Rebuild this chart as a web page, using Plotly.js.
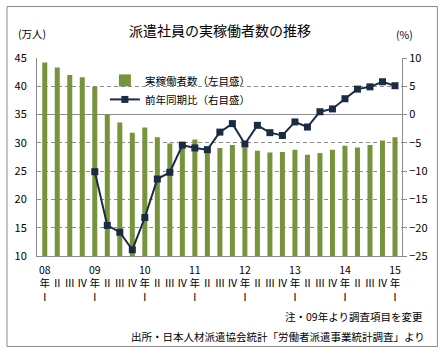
<!DOCTYPE html>
<html>
<head>
<meta charset="utf-8">
<script src="https://cdn.plot.ly/plotly-3.0.1.min.js"></script>
<style>
html,body{margin:0;padding:0;background:#fff;}
#chart{width:444px;height:353px;}
</style>
</head>
<body>
<div id="chart"></div>
<script>
// Quarters 2008 Q1 .. 2015 Q1
var quarterIndex = [0,1,2,3,4,5,6,7,8,9,10,11,12,13,14,15,16,17,18,19,20,21,22,23,24,25,26,27,28];
var tickLabels = [
  "08<br>年<br>Ⅰ"," <br>Ⅱ"," <br>Ⅲ"," <br>Ⅳ",
  "09<br>年<br>Ⅰ"," <br>Ⅱ"," <br>Ⅲ"," <br>Ⅳ",
  "10<br>年<br>Ⅰ"," <br>Ⅱ"," <br>Ⅲ"," <br>Ⅳ",
  "11<br>年<br>Ⅰ"," <br>Ⅱ"," <br>Ⅲ"," <br>Ⅳ",
  "12<br>年<br>Ⅰ"," <br>Ⅱ"," <br>Ⅲ"," <br>Ⅳ",
  "13<br>年<br>Ⅰ"," <br>Ⅱ"," <br>Ⅲ"," <br>Ⅳ",
  "14<br>年<br>Ⅰ"," <br>Ⅱ"," <br>Ⅲ"," <br>Ⅳ",
  "15<br>年<br>Ⅰ"
];
// 実稼働者数 (万人)
var workers = [44.2,43.3,42.0,41.6,39.9,35.0,33.6,31.8,32.7,31.0,29.9,29.6,30.6,28.8,29.1,29.6,29.2,28.6,28.3,28.4,28.8,27.9,28.2,28.8,29.5,29.2,29.6,30.4,31.0];
// 前年同期比 (%)
var yoy = [null,null,null,null,-10.1,-19.6,-20.8,-23.9,-18.2,-11.4,-10.2,-5.4,-5.9,-6.2,-3.1,-1.6,-5.2,-1.9,-3.2,-3.7,-1.3,-2.2,0.5,1.0,2.8,4.5,4.9,5.8,5.1];

var FONT = '"Noto Sans CJK JP", "Noto Sans", sans-serif';
var GRAY = '#8c8c8c';

var traces = [
  {
    type: 'bar', x: quarterIndex, y: workers, name: '実稼働者数（左目盛）',
    marker: {color: '#77933C'}, yaxis: 'y', hoverinfo: 'skip'
  },
  {
    type: 'scatter', mode: 'lines+markers', x: quarterIndex, y: yoy, name: '前年同期比（右目盛）',
    yaxis: 'y2', line: {color: '#1a2b45', width: 2},
    marker: {symbol: 'square', size: 7, color: '#1a2b45'}, connectgaps: false, hoverinfo: 'skip'
  }
];

var layout = {
  width: 444, height: 353,
  margin: {l: 37, r: 42, t: 58, b: 97, pad: 0},
  paper_bgcolor: '#fff', plot_bgcolor: 'rgba(0,0,0,0)',
  font: {family: FONT, size: 11, color: '#000'},
  bargap: 0.6,
  showlegend: true,
  legend: {
    x: 0.186, y: 0.96, xanchor: 'left', yanchor: 'top',
    bgcolor: 'rgba(0,0,0,0)', font: {size: 10.5, family: FONT},
    tracegroupgap: 0, itemwidth: 30
  },
  title: {
    text: '派遣社員の実稼働者数の推移',
    x: 0.4955, xanchor: 'center', xref: 'container',
    y: 0.912, yanchor: 'middle', yref: 'container',
    font: {size: 14, family: FONT, color: '#000'}
  },
  xaxis: {
    range: [-0.62, 28.56], tickmode: 'array', tickvals: quarterIndex, ticktext: tickLabels,
    showline: true, linecolor: GRAY, linewidth: 1, ticks: '', showgrid: false, zeroline: false,
    tickfont: {size: 10.5, family: FONT}, tickangle: 0, ticklabelstandoff: 4, fixedrange: true
  },
  yaxis: {
    range: [10, 45], dtick: 5, tick0: 10, showline: true, linecolor: GRAY, linewidth: 1,
    showgrid: true, gridcolor: GRAY, gridwidth: 1, griddash: '4px,3px',
    zeroline: false, ticks: 'outside', ticklen: 7, tickcolor: 'rgba(0,0,0,0)',
    tickfont: {size: 11, family: FONT}, fixedrange: true
  },
  yaxis2: {
    range: [-25, 10], dtick: 5, tick0: 0, overlaying: 'y', side: 'right',
    showline: true, linecolor: GRAY, linewidth: 1, showgrid: false,
    zeroline: true, zerolinecolor: GRAY, zerolinewidth: 1,
    ticks: 'outside', ticklen: 4, tickcolor: GRAY,
    tickfont: {size: 11, family: FONT}, fixedrange: true
  },
  annotations: [
    {text: '(万人)', xref: 'paper', yref: 'paper', x: -0.0137, y: 1.126, showarrow: false,
     xanchor: 'center', yanchor: 'middle', font: {size: 10.5}},
    {text: '(%)', xref: 'paper', yref: 'paper', x: 1.008, y: 1.12, showarrow: false,
     xanchor: 'center', yanchor: 'middle', font: {size: 10.5}},
    {text: '注・09年より調査項目を変更', xref: 'paper', yref: 'paper', x: 1.063, y: -0.305,
     showarrow: false, xanchor: 'right', yanchor: 'middle', font: {size: 10.5}},
    {text: '出所・日本人材派遣協会統計「労働者派遣事業統計調査」より', xref: 'paper', yref: 'paper',
     x: 1.068, y: -0.409, showarrow: false, xanchor: 'right', yanchor: 'middle', font: {size: 10.5}}
  ],
  shapes: [
    {type: 'rect', xref: 'paper', yref: 'paper', x0: -0.0822, x1: 1.097, y0: -0.457, y1: 1.260,
     line: {color: '#8a8a8a', width: 1}, fillcolor: 'rgba(0,0,0,0)', layer: 'below'}
  ]
};

Plotly.newPlot('chart', traces, layout, {staticPlot: true, displayModeBar: false});
</script>
</body>
</html>
